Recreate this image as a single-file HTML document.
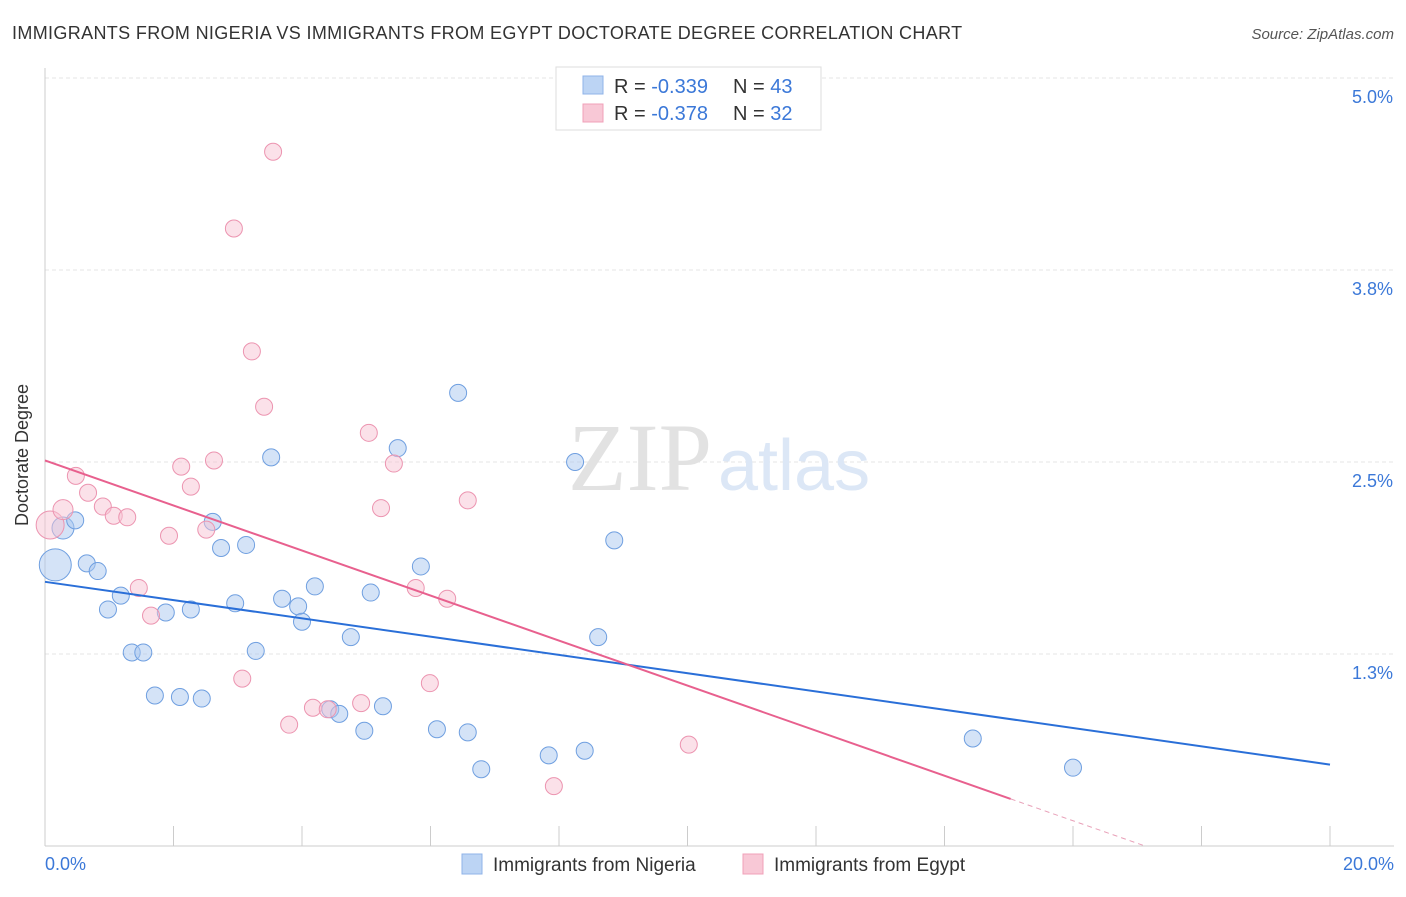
<!DOCTYPE html>
<html><head><meta charset="utf-8"><style>
body{margin:0;background:#fff;font-family:"Liberation Sans",sans-serif;}
svg text{font-family:"Liberation Sans",sans-serif;}
</style></head><body>
<svg width="1406" height="892" xmlns="http://www.w3.org/2000/svg">
<text x="12" y="39" font-size="18" letter-spacing="0.35" fill="#333">IMMIGRANTS FROM NIGERIA VS IMMIGRANTS FROM EGYPT DOCTORATE DEGREE CORRELATION CHART</text>
<text x="1394" y="39" font-size="15" fill="#555" text-anchor="end" font-style="italic">Source: ZipAtlas.com</text>
<g id="grid"></g>
<g>
<text x="712" y="490" font-size="96" fill="#e2e2e2" text-anchor="end" style="font-family:'Liberation Serif',serif">ZIP</text>
<text x="718" y="490" font-size="72" fill="#dce7f6">atlas</text>
</g>
<line x1="45" y1="68" x2="45" y2="846" stroke="#ccc"/>
<line x1="45" y1="846" x2="1394" y2="846" stroke="#ccc"/>
<g id="xticks"></g>
<text x="28" y="455" font-size="18" fill="#333" text-anchor="middle" transform="rotate(-90 28 455)">Doctorate Degree</text>
<text x="45" y="870" font-size="18" fill="#3b78d8">0.0%</text>
<text x="1394" y="870" font-size="18" fill="#3b78d8" text-anchor="end">20.0%</text>
<g id="pts"></g>
<g id="trends"></g>
<g>
<rect x="556" y="67" width="265" height="63" fill="#fff" stroke="#ddd"/>
<rect x="583" y="76" width="20" height="18" fill="#bcd4f4" stroke="#8fb3e8"/>
<rect x="583" y="104" width="20" height="18" fill="#f8c8d6" stroke="#f0a0b8"/>
<text x="614" y="93" font-size="20" fill="#333">R = <tspan fill="#3b78d8">-0.339</tspan><tspan x="733">N = </tspan><tspan fill="#3b78d8">43</tspan></text>
<text x="614" y="120" font-size="20" fill="#333">R = <tspan fill="#3b78d8">-0.378</tspan><tspan x="733">N = </tspan><tspan fill="#3b78d8">32</tspan></text>
</g>
<g>
<rect x="462" y="854" width="20" height="20" fill="#bcd4f4" stroke="#8fb3e8"/>
<text x="493" y="871" font-size="19" fill="#333">Immigrants from Nigeria</text>
<rect x="743" y="854" width="20" height="20" fill="#f8c8d6" stroke="#f0a0b8"/>
<text x="774" y="871" font-size="19" fill="#333">Immigrants from Egypt</text>
</g>
</svg>
<script>
const yTicks=[1.25,2.5,3.75,5.0];
const yTickLabels=["1.3%","2.5%","3.8%","5.0%"];
const nigeriaX=[0.16,0.28,0.47,0.65,0.82,0.98,1.18,1.35,1.53,1.71,1.88,2.10,2.27,2.44,2.61,2.74,2.96,3.13,3.28,3.52,3.69,3.94,4.00,4.20,4.44,4.58,4.76,4.97,5.07,5.26,5.49,5.85,6.10,6.43,6.58,6.79,7.84,8.25,8.40,8.61,8.86,14.44,16.00];
const nigeriaY=[1.83,2.07,2.12,1.84,1.79,1.54,1.63,1.26,1.26,0.98,1.52,0.97,1.54,0.96,2.11,1.94,1.58,1.96,1.27,2.53,1.61,1.56,1.46,1.69,0.89,0.86,1.36,0.75,1.65,0.91,2.59,1.82,0.76,2.95,0.74,0.50,0.59,2.50,0.62,1.36,1.99,0.70,0.51];
const egyptX=[0.08,0.28,0.48,0.67,0.90,1.07,1.28,1.46,1.65,1.93,2.12,2.27,2.51,2.63,2.94,3.07,3.22,3.41,3.55,3.80,4.17,4.40,4.92,5.04,5.23,5.43,5.77,5.99,6.26,6.58,7.92,10.02];
const egyptY=[2.09,2.19,2.41,2.30,2.21,2.15,2.14,1.68,1.50,2.02,2.47,2.34,2.06,2.51,4.02,1.09,3.22,2.86,4.52,0.79,0.90,0.89,0.93,2.69,2.20,2.49,1.68,1.06,1.61,2.25,0.39,0.66];
const nigeriaTrend=[1.72,0.53];
const egyptTrend=[2.51,-0.1466,15.03];
const NS="http://www.w3.org/2000/svg";
const X=v=>45+v/20*1285, Y=v=>846-v/5*768;
function mk(t,a,p){const e=document.createElementNS(NS,t);for(const k in a)e.setAttribute(k,a[k]);document.getElementById(p).appendChild(e);return e;}
yTicks.forEach((t,i)=>{
 const l=mk('line',{x1:45,x2:1394,y1:Y(t),y2:Y(t),stroke:'#e4e4e4','stroke-dasharray':'4,3'},'grid');
 
 
 const tx=mk('text',{x:1393,y:Y(t)+25,'font-size':18,fill:'#3b78d8','text-anchor':'end'},'grid');
 tx.textContent=yTickLabels[i];
 
 
});
for(let i=1;i<=10;i++){const l=mk('line',{x1:X(i*2),x2:X(i*2),y1:826,y2:846,stroke:'#ccc'},'xticks');
 
 }
nigeriaX.forEach((x,i)=>{const c=mk('circle',{cx:X(x),cy:Y(nigeriaY[i]),r:i==0?16:(i==1?11:8.5),fill:'rgba(170,200,240,0.5)',stroke:'#6f9fe0','stroke-width':1},'pts');
 
 });
egyptX.forEach((x,i)=>{const c=mk('circle',{cx:X(x),cy:Y(egyptY[i]),r:i==0?14:(i==1?10:8.5),fill:'rgba(248,195,212,0.5)',stroke:'#ec94b0','stroke-width':1},'pts');
 
 });
let t=mk('line',{x1:X(0),y1:Y(nigeriaTrend[0]),x2:X(20),y2:Y(nigeriaTrend[1]),stroke:'#2a6fd8','stroke-width':2},'trends');


const e0=egyptTrend[0],es=egyptTrend[1],ee=egyptTrend[2],ez=-e0/es;
t=mk('line',{x1:X(0),y1:Y(e0),x2:X(ee),y2:Y(e0+es*ee),stroke:'#e8608e','stroke-width':2},'trends');


t=mk('line',{x1:X(ee),y1:Y(e0+es*ee),x2:X(ez),y2:Y(0),stroke:'#e8a0b8','stroke-width':1,'stroke-dasharray':'5,4'},'trends');


</script>
</body></html>
